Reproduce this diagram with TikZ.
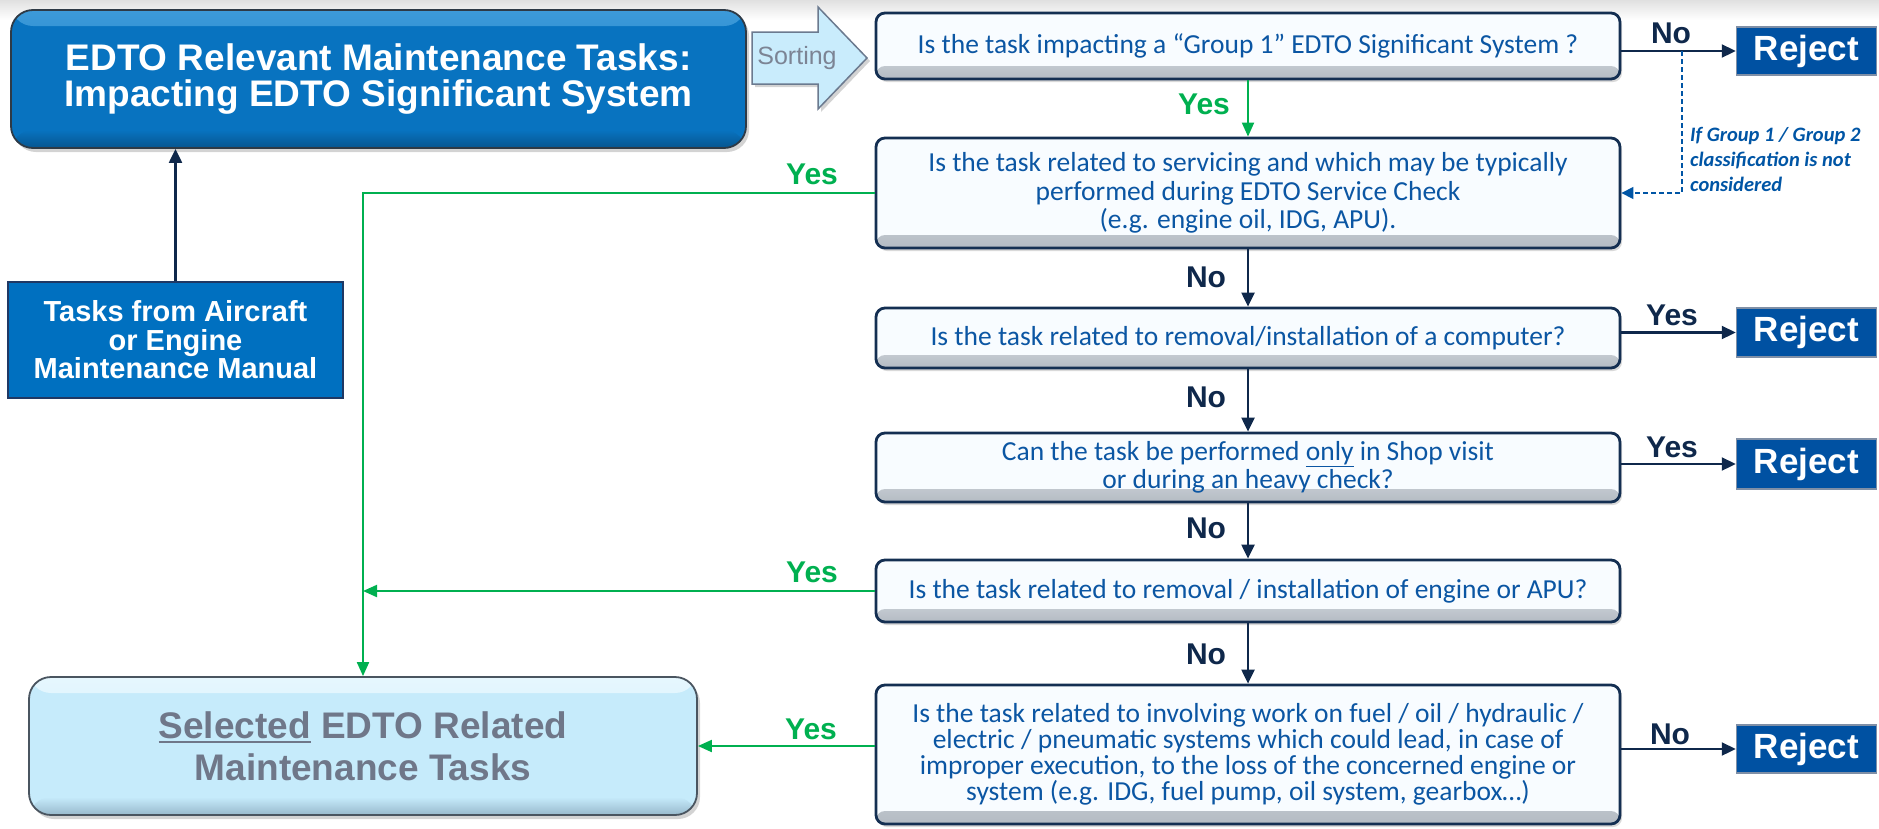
\documentclass[tikz,border=0pt]{standalone}
\usepackage{fontspec}
\setmainfont{Liberation Sans}
\newfontfamily\qfont{Carlito}
\usetikzlibrary{arrows.meta,shadows,calc}
\definecolor{navy}{HTML}{0F284B}
\definecolor{qtext}{HTML}{0B56A3}
\definecolor{qborder}{HTML}{142F52}
\definecolor{qfill}{HTML}{F8FCFF}
\definecolor{qgrey}{HTML}{B4BBC3}
\definecolor{okgreen}{HTML}{00B050}
\definecolor{rejblue}{HTML}{0051A2}
\definecolor{rejborder}{HTML}{7F8FA6}
\definecolor{tlblue}{HTML}{0873C0}
\definecolor{tltop}{HTML}{3D9AD9}
\definecolor{tlbot}{HTML}{07558F}
\definecolor{tlborder}{HTML}{2E3A46}
\definecolor{taskblue}{HTML}{0070C0}
\definecolor{taskborder}{HTML}{1F3864}
\definecolor{blfill}{HTML}{C6EBFB}
\definecolor{bltop}{HTML}{E6F7FE}
\definecolor{blbot}{HTML}{98B9CC}
\definecolor{blborder}{HTML}{4A5560}
\definecolor{bltext}{HTML}{6F7789}
\definecolor{sortfill}{HTML}{C9ECFC}
\definecolor{sortborder}{HTML}{6B7A8F}
\definecolor{sorttext}{HTML}{7C8494}
\definecolor{annot}{HTML}{0055A5}
\newcommand\myul[1]{\setbox0\hbox{#1}\rlap{\rule[-5pt]{\wd0}{2.5pt}}#1}
\begin{document}
\begin{tikzpicture}[x=1pt,y=-1pt,
  qbox/.style={draw=qborder, line width=2.8pt, rounded corners=9pt, fill=qfill,
    minimum width=744pt, inner sep=0pt, align=center, text=qtext,
    font=\qfont\fontsize{27.5}{28.5}\selectfont,
    drop shadow={shadow xshift=2pt, shadow yshift=-3pt, opacity=0.3},
    path picture={\shade[top color=qfill, bottom color=qgrey]
      ([yshift=13pt]path picture bounding box.south west) rectangle (path picture bounding box.south east);}},
  rejbox/.style={draw=rejborder, line width=1.5pt, fill=rejblue, text=white,
    minimum width=140pt, inner sep=0pt, font=\bfseries\fontsize{35}{35}\selectfont},
  bigbox/.style={rounded corners=22pt, line width=1.8pt, inner sep=0pt, align=center,
    drop shadow={shadow xshift=3pt, shadow yshift=-4pt, opacity=0.35}},
  lab/.style={inner sep=0pt, text=navy, font=\bfseries\fontsize{30}{30}\selectfont},
  glab/.style={inner sep=0pt, text=okgreen, font=\bfseries\fontsize{30}{30}\selectfont},
  navyarrow/.style={draw=navy, line width=2.2pt, -{Triangle[length=14pt,width=13pt]}},
  greenarrow/.style={draw=okgreen, line width=2pt, -{Triangle[length=14pt,width=12pt]}},
  dashedarrow/.style={draw=annot, line width=1.5pt, dash pattern=on 5pt off 3pt, -{Triangle[length=12pt,width=12pt]}}
]
\useasboundingbox (0,0) rectangle (1879,828);
\shade[top color=black!12, bottom color=white] (0,0) rectangle (1879,20);

% top-left box
\node[bigbox, draw=tlborder, fill=tlblue, minimum width=735pt, minimum height=138pt,
  text=white, font=\bfseries\fontsize{37}{36}\selectfont,
  path picture={\shade[top color=tltop, bottom color=tlblue] (path picture bounding box.north west) rectangle ([yshift=-16pt]path picture bounding box.north east);
    \shade[top color=tlblue, bottom color=tlbot] ([yshift=18pt]path picture bounding box.south west) rectangle (path picture bounding box.south east);}]
  (tl) at (378.5,79) {EDTO Relevant Maintenance Tasks:\\Impacting EDTO Significant System};

% sorting arrow
\draw[fill=sortfill, draw=sortborder, line width=1.5pt,
  drop shadow={shadow xshift=3pt, shadow yshift=-3pt, opacity=0.35}]
  (752,32) -- (818,32) -- (818,7) -- (867,58) -- (818,109) -- (818,84) -- (752,84) -- cycle;
\node[inner sep=0pt, text=sorttext, font=\fontsize{25}{25}\selectfont] (sorting) at (797,58) {Sorting};

% tasks box
\node[draw=taskborder, line width=1.5pt, fill=taskblue, minimum width=335pt, minimum height=116pt,
  inner sep=0pt, align=center, text=white, font=\bfseries\fontsize{29}{28.5}\selectfont]
  (tasks) at (175.5,340) {Tasks from Aircraft\\or Engine\\Maintenance Manual};

% bottom-left box
\node[bigbox, draw=blborder, fill=blfill, minimum width=668pt, minimum height=138pt,
  text=bltext, font=\bfseries\fontsize{37}{42}\selectfont,
  path picture={\shade[top color=bltop, bottom color=blfill] (path picture bounding box.north west) rectangle ([yshift=-16pt]path picture bounding box.north east);
    \shade[top color=blfill, bottom color=blbot] ([yshift=18pt]path picture bounding box.south west) rectangle (path picture bounding box.south east);}]
  (bl) at (363,746) {\myul{Selected} EDTO Related\\Maintenance Tasks};

% question boxes
\node[qbox, minimum height=66pt] (q1) at (1248,46) {Is the task impacting a “Group 1” EDTO Significant System ?};
\node[qbox, minimum height=110pt] (q2) at (1248,193) {Is the task related to servicing and which may be typically\\performed during EDTO Service Check\\(e.g. engine oil, IDG, APU).};
\node[qbox, minimum height=60pt] (q3) at (1248,338) {Is the task related to removal/installation of a computer?};
\node[qbox, minimum height=69pt] (q4) at (1248,467.5) {Can the task be performed \underline{only} in Shop visit\\or during an heavy check?};
\node[qbox, minimum height=62pt] (q5) at (1248,591) {Is the task related to removal / installation of engine or APU?};
\node[qbox, minimum height=139pt, font=\qfont\fontsize{27.5}{25.8}\selectfont] (q6) at (1248,754.5) {Is the task related to involving work on fuel / oil / hydraulic /\\electric / pneumatic systems which could lead, in case of\\improper execution, to the loss of the concerned engine or\\system (e.g. IDG, fuel pump, oil system, gearbox…)};

% reject boxes
\node[rejbox, minimum height=48pt] (r1) at (1806.5,51) {Reject};
\node[rejbox, minimum height=49pt] (r2) at (1806.5,332.5) {Reject};
\node[rejbox, minimum height=50pt] (r3) at (1806.5,464) {Reject};
\node[rejbox, minimum height=48pt] (r4) at (1806.5,749) {Reject};

% connectors
\draw[navyarrow] (tasks.north) -- (tasks.north |- tl.south);
\draw[navyarrow] (q1.east |- r1.west) -- (r1.west);
\draw[navyarrow] (q3.east |- r2.west) -- (r2.west);
\draw[navyarrow] (q4.east |- r3.west) -- (r3.west);
\draw[navyarrow] (q6.east |- r4.west) -- (r4.west);
\draw[greenarrow] (q1.south) -- (q2.north);
\draw[navyarrow] (q2.south) -- (q3.north);
\draw[navyarrow] (q3.south) -- (q4.north);
\draw[navyarrow] (q4.south) -- (q5.north);
\draw[navyarrow] (q5.south) -- (q6.north);
\draw[greenarrow] (q2.west) -- (q2.west -| bl.north) -- (bl.north);
\draw[greenarrow] (q5.west) -- (q5.west -| bl.north);
\draw[greenarrow] (q6.west |- bl.east) -- (bl.east);
\coordinate (d1) at (1682,51);
\coordinate (d2) at (1682,193);
\draw[dashedarrow] (d1) -- (d2) -- (d2 -| q2.east);

% annotation
\node[anchor=north west, inner sep=0pt, align=left, text=annot,
  font=\qfont\bfseries\itshape\fontsize{20.5}{25}\selectfont] (note) at (1690,127)
  {If Group 1 / Group 2\\classification is not\\considered};

% labels
\node[lab] (no1) at (1671,33) {No};
\node[glab] (yes1) at (1204,104) {Yes};
\node[glab] (yes2) at (812,174) {Yes};
\node[lab] (no2) at (1206,277) {No};
\node[lab] (yes3) at (1672,315) {Yes};
\node[lab] (no3) at (1206,397) {No};
\node[lab] (yes4) at (1672,447) {Yes};
\node[lab] (no4) at (1206,528) {No};
\node[glab] (yes5) at (812,572) {Yes};
\node[lab] (no5) at (1206,654) {No};
\node[glab] (yes6) at (811,729) {Yes};
\node[lab] (no6) at (1670,734) {No};
\end{tikzpicture}
\end{document}
